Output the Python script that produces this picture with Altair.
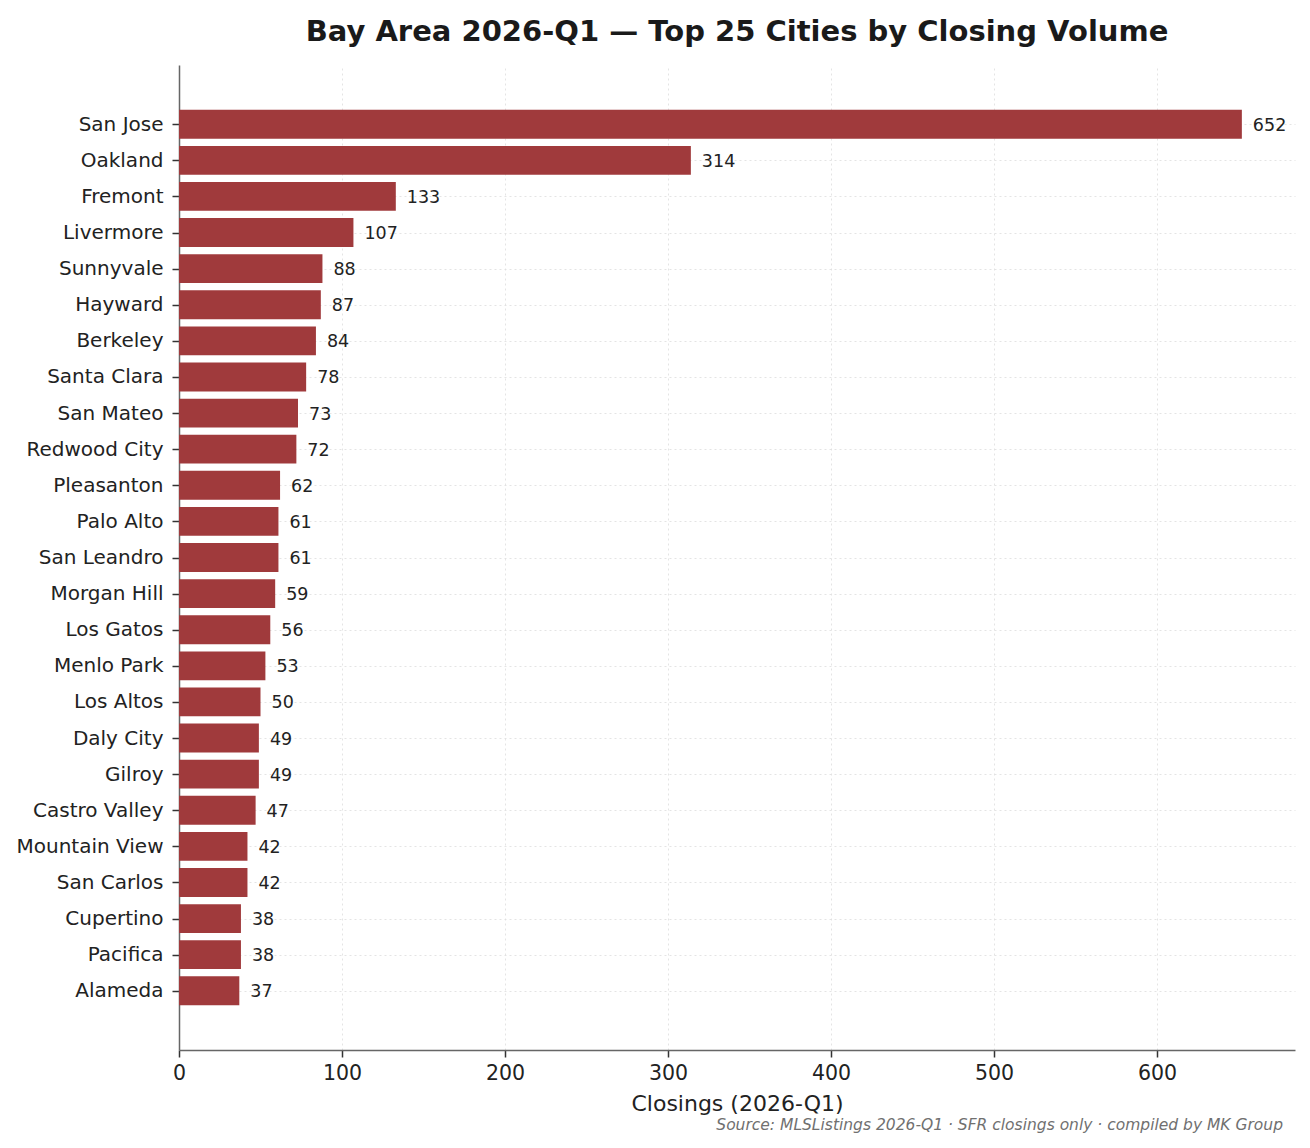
import json
import altair as alt
import pandas as pd

cities = ["San Jose", "Oakland", "Fremont", "Livermore", "Sunnyvale", "Hayward", "Berkeley",
          "Santa Clara", "San Mateo", "Redwood City", "Pleasanton", "Palo Alto", "San Leandro",
          "Morgan Hill", "Los Gatos", "Menlo Park", "Los Altos", "Daly City", "Gilroy",
          "Castro Valley", "Mountain View", "San Carlos", "Cupertino", "Pacifica", "Alameda"]
closings = [652, 314, 133, 107, 88, 87, 84, 78, 73, 72, 62, 61, 61, 59, 56, 53, 50, 49, 49,
            47, 42, 42, 38, 38, 37]
x_ticks = [0, 100, 200, 300, 400, 500, 600]
title_text = "Bay Area 2026-Q1 — Top 25 Cities by Closing Volume"
source_text = "Source: MLSListings 2026-Q1 · SFR closings only · compiled by MK Group"

n = len(cities)
df = pd.DataFrame({"city": cities, "closings": closings, "rank": list(range(n))})
df["lo"] = df["rank"] - 0.4
df["hi"] = df["rank"] + 0.4

W, H = 1116, 985
FONT = "DejaVu Sans"
margin = 0.05 * (n - 1 + 0.8)
y_dom = [-0.4 - margin, n - 1 + 0.4 + margin]

label_expr = json.dumps(cities) + "[datum.value]"

y_scale = alt.Scale(domain=y_dom, reverse=True, nice=False, zero=False)
y_enc = alt.Y("lo:Q", title=None, scale=y_scale,
              axis=alt.Axis(values=list(range(n)), labelExpr=label_expr,
                            labelFontSize=20, labelColor="#222222", labelFont=FONT,
                            labelPadding=9, tickSize=7, tickColor="#333333", tickWidth=1.5,
                            domainColor="#666666", domainWidth=1.5,
                            grid=True, gridColor="#dddddd", gridDash=[2, 3], gridWidth=0.8))
x_enc = alt.X("closings:Q", title="Closings (2026-Q1)",
              scale=alt.Scale(domain=[0, 684.6], nice=False, zero=True),
              axis=alt.Axis(values=x_ticks, labelFontSize=20.5, labelColor="#222222", labelFont=FONT,
                            labelFlush=False, labelPadding=6,
                            titleFontSize=22, titleFontWeight="normal", titleColor="#222222",
                            titleFont=FONT, titlePadding=10,
                            tickSize=7, tickColor="#333333", tickWidth=1.5,
                            domainColor="#666666", domainWidth=1.5,
                            grid=True, gridColor="#dddddd", gridDash=[2, 3], gridWidth=0.8))

bars = alt.Chart(df).mark_bar(color="#a03a3c").encode(
    x=x_enc, x2=alt.datum(0), y=y_enc, y2="hi:Q")

labels = alt.Chart(df).mark_text(align="left", baseline="middle", dx=11, dy=1.5, fontSize=17.5,
                                 font=FONT, color="#222222").encode(
    x="closings:Q", y=alt.Y("rank:Q", scale=y_scale), text="closings:Q")

src = alt.Chart(pd.DataFrame({"t": [source_text]})).mark_text(
    align="right", baseline="alphabetic", fontSize=15.5, fontStyle="italic",
    font=FONT, color="#707070").encode(
    x=alt.value(W - 12), y=alt.value(H + 80), text="t:N")

chart = alt.layer(bars, labels, src).properties(
    width=W, height=H,
    background="white",
    padding={"left": 8, "top": 10, "right": 5, "bottom": 5},
    title=alt.TitleParams(title_text, fontSize=29, fontWeight="bold", font=FONT,
                          color="#1a1a1a", anchor="middle", offset=18),
).configure_view(stroke=None)

chart.save("out.html", embed_options={"renderer": "svg", "actions": False})
